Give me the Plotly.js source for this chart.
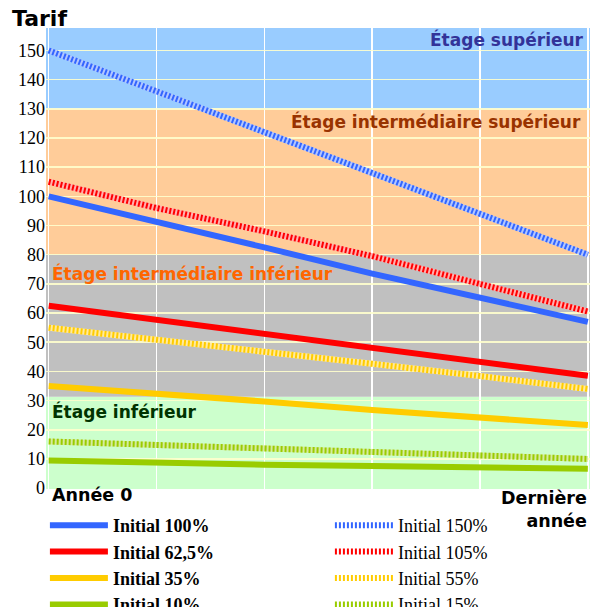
<!DOCTYPE html>
<html>
<head>
<meta charset="utf-8">
<script src="https://cdn.plot.ly/plotly-3.0.1.min.js"></script>
<style>html,body{margin:0;padding:0;background:#fff}#chart{width:592px;height:607px}</style>
</head>
<body>
<div id="chart"></div>
<script>
// x positions: year index from "Année 0" (0) to "Dernière année" (5)
const years = [0, 1, 2, 3, 4, 5];

// Solid series
const init100 = [100, 91.5, 82.5, 73.5, 65.5, 57];
const init625 = [62.5, 57.8, 53, 48.3, 43.5, 38.5];
const init35  = [35, 32.5, 29.7, 26.8, 24.3, 21.6];
const init10  = [9.5, 8.6, 8.0, 7.6, 7.2, 6.6];

// Patterned series
const init150 = [150, 136, 122, 108, 94, 80];
const init105 = [105, 96, 88, 79.5, 70, 60.5];
const init55  = [55, 51, 46.8, 42.6, 38.4, 34];
const init15  = [16, 14.7, 13.4, 12.4, 11.3, 10];

// Tier boundaries
const tierNames = ["Étage inférieur", "Étage intermédiaire inférieur", "Étage intermédiaire supérieur", "Étage supérieur"];
const tierBounds = [[-0.3, 31.3], [31.3, 80.2], [80.2, 130], [130, 157.7]];

const yTicks = [0,10,20,30,40,50,60,70,80,90,100,110,120,130,140,150];

const BLUE = '#3366ff', RED = '#ff0000', YEL = '#ffcc00', GRN = '#99cc00';
const TINT = {'#3366ff': '#b3c6ff', '#ff0000': '#ffb0b0', '#ffcc00': '#ffeaa0', '#99cc00': '#d6eba0'};

function solid(name, y, color) {
  return {x: years, y: y, name: '<b>' + name + '</b>', type: 'scatter', mode: 'lines',
          line: {color: color, width: 6}, hoverinfo: 'skip'};
}
function patternBase(y, color) {
  return {x: years, y: y, type: 'scatter', mode: 'lines', showlegend: false,
          line: {color: TINT[color], width: 6}, hoverinfo: 'skip'};
}
function pattern(name, y, color) {
  return {x: years, y: y, name: name, type: 'scatter', mode: 'lines',
          line: {color: color, width: 6, dash: '2px,2px'}, hoverinfo: 'skip'};
}

const data = [
  patternBase(init150, BLUE), patternBase(init105, RED), patternBase(init55, YEL), patternBase(init15, GRN),
  solid('Initial 100%', init100, BLUE),
  pattern('Initial 150%', init150, BLUE),
  solid('Initial 62,5%', init625, RED),
  pattern('Initial 105%', init105, RED),
  solid('Initial 35%', init35, YEL),
  pattern('Initial 55%', init55, YEL),
  solid('Initial 10%', init10, GRN),
  pattern('Initial 15%', init15, GRN)
];

const bandColors = ['#ccffcc', '#c0c0c0', '#ffcc99', '#99ccff'];
const shapes = tierBounds.map((b, i) => ({
  type: 'rect', xref: 'paper', yref: 'y', x0: 0, x1: 1, y0: b[0], y1: b[1],
  fillcolor: bandColors[i], line: {width: 0}, layer: 'below'
}));

const sans = 'DejaVu Sans, Verdana, sans-serif';
const tierFont = {family: sans, size: 17};
const annotations = [
  {text: '<b>' + tierNames[3] + '</b>', xref: 'paper', yref: 'y', x: 1, y: 153.6, xanchor: 'right', yanchor: 'middle', xshift: -4, showarrow: false, font: Object.assign({}, tierFont, {color: '#333399'})},
  {text: '<b>' + tierNames[2] + '</b>', xref: 'paper', yref: 'y', x: 1, y: 125.8, xanchor: 'right', yanchor: 'middle', xshift: -7, showarrow: false, font: Object.assign({}, tierFont, {color: '#993300'})},
  {text: '<b>' + tierNames[1] + '</b>', xref: 'paper', yref: 'y', x: 0, y: 73.4, xanchor: 'left', yanchor: 'middle', xshift: 4, showarrow: false, font: Object.assign({}, tierFont, {color: '#ff6600'})},
  {text: '<b>' + tierNames[0] + '</b>', xref: 'paper', yref: 'y', x: 0, y: 26.4, xanchor: 'left', yanchor: 'middle', xshift: 4, showarrow: false, font: Object.assign({}, tierFont, {color: '#003300'})},
  {text: '<b>Année 0</b>', xref: 'paper', yref: 'paper', x: 0, y: -0.013, xanchor: 'left', yanchor: 'middle', xshift: 4, showarrow: false, font: {family: sans, size: 17.5, color: '#000'}},
  {text: '<b>Dernière<br>année</b>', xref: 'paper', yref: 'paper', x: 1, y: -0.044, xanchor: 'right', yanchor: 'middle', align: 'right', xshift: -1, showarrow: false, font: {family: sans, size: 17.5, color: '#000'}}
];

const layout = {
  width: 592, height: 607,
  margin: {l: 46, r: 2, t: 28, b: 118, autoexpand: false},
  paper_bgcolor: '#ffffff', plot_bgcolor: '#ffffff',
  title: {text: '<b>Tarif</b>', x: 12/592, xref: 'container', xanchor: 'left', y: 1 - 18/607, yref: 'container', yanchor: 'middle', font: {family: sans, size: 22, color: '#000'}},
  xaxis: {range: [-0.025, 5.02], dtick: 1, tick0: 0, showticklabels: false, ticks: '', zeroline: false, showgrid: true, gridcolor: '#ffffff', gridwidth: 1.5, showline: false, fixedrange: true},
  yaxis: {range: [-0.3, 157.7], tickvals: yTicks, ticktext: yTicks.map(String), ticks: '', zeroline: false, showgrid: true, gridcolor: 'rgba(255,255,205,0.9)', gridwidth: 1.5, showline: false, tickfont: {family: 'Liberation Serif, Times New Roman, serif', size: 18, color: '#000'}, fixedrange: true},
  shapes: shapes,
  annotations: annotations,
  showlegend: true,
  legend: {orientation: 'h', x: -0.002, xanchor: 'left', y: -0.039, yanchor: 'top', entrywidth: 212, entrywidthmode: 'pixels', itemwidth: 58, bgcolor: 'rgba(0,0,0,0)', font: {family: 'Liberation Serif, Times New Roman, serif', size: 18, color: '#000'}, traceorder: 'normal'}
};

Plotly.newPlot('chart', data, layout, {displayModeBar: false, staticPlot: true});
</script>
</body>
</html>
